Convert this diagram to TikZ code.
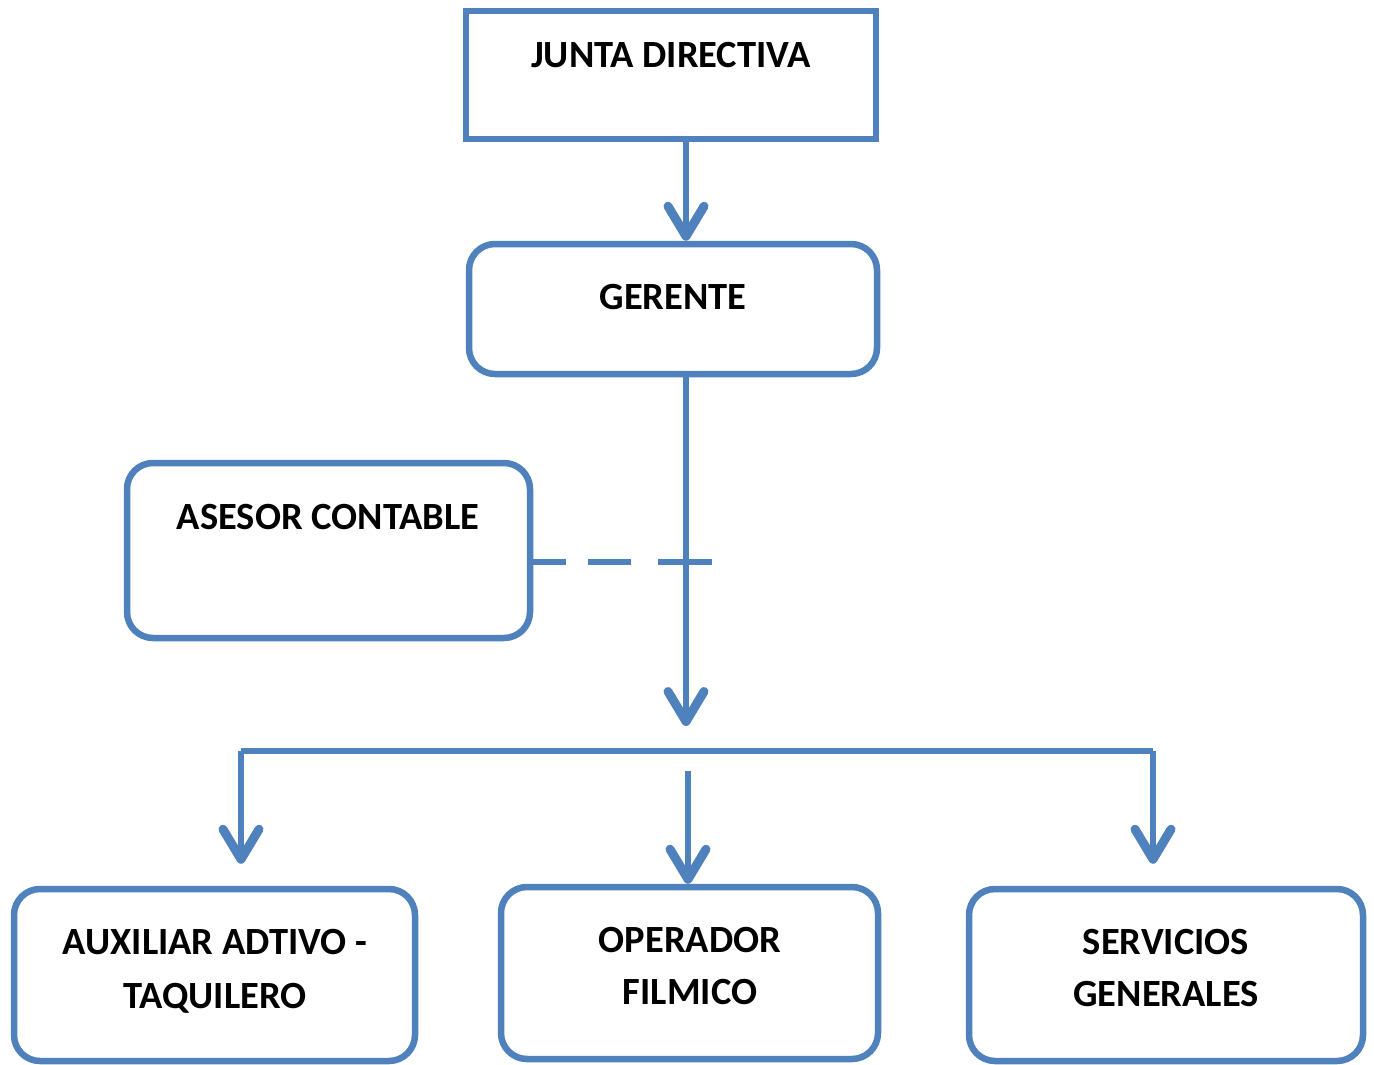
\documentclass[tikz,border=0pt]{standalone}
\usepackage{fontspec}
\setmainfont{Carlito}
\usetikzlibrary{arrows.meta}
\definecolor{obl}{HTML}{4F81BD}
\begin{document}
\begin{tikzpicture}[x=1pt,y=-1pt,
  box/.style={draw=obl,line width=6.5pt,fill=white,inner sep=0pt},
  rbox/.style={box,rounded corners=26pt},
  lbl/.style={font=\fontsize{38.5}{54}\selectfont\bfseries,anchor=base,inner sep=0pt},
  conn/.style={draw=obl,line width=6.5pt},
  arr/.style={conn,-{Straight Barb[length=30pt,width=36pt,round,line width=9pt]}}]
\useasboundingbox (0,0) rectangle (1374,1065);
% boxes
\node[box,minimum width=410pt,minimum height=128pt] (jd) at (671,75) {};
\node[rbox,minimum width=408pt,minimum height=130pt] (ger) at (673,309) {};
\node[rbox,minimum width=403pt,minimum height=175pt] (ase) at (328.5,550.5) {};
\node[rbox,minimum width=401pt,minimum height=172pt] (aux) at (214.5,975) {};
\node[rbox,minimum width=377pt,minimum height=172pt] (op) at (689.5,973) {};
\node[rbox,minimum width=394pt,minimum height=172pt] (srv) at (1166,975) {};
% labels
\node[lbl] (jdt) at (671,68) {JUNTA DIRECTIVA};
\node[lbl] (gert) at (673,309) {GERENTE};
\node[lbl] (aset) at (328,529) {ASESOR CONTABLE};
\node[lbl] (auxa) at (215,954) {AUXILIAR ADTIVO -};
\node[lbl] (auxb) at (215,1008) {TAQUILERO};
\node[lbl] (opa) at (690,952) {OPERADOR};
\node[lbl] (opb) at (690,1004) {FILMICO};
\node[lbl] (srva) at (1166,954) {SERVICIOS};
\node[lbl] (srvb) at (1166,1006) {GENERALES};
% coordinates
\coordinate (m1) at (686,0);
\coordinate (bt) at (686,726);
\coordinate (bl) at (241,751);
\coordinate (br) at (1153,751);
\coordinate (m2) at (688,771);
\coordinate (dend) at (712,562);
% connectors
\draw[arr] (jd.south -| m1) -- (ger.north -| m1);
\draw[arr] (ger.south -| m1) -- (bt);
\draw[conn,line cap=butt] (bl) -- (br);
\draw[arr,shorten >=22pt] (bl) -- (aux.north -| bl);
\draw[arr,shorten >=22pt] (br) -- (srv.north -| br);
\draw[arr] (m2) -- (op.north -| m2);
\draw[conn,dash pattern=on 33pt off 22pt on 43pt off 27pt on 80pt] (ase.east |- dend) -- (dend);
\end{tikzpicture}
\end{document}
